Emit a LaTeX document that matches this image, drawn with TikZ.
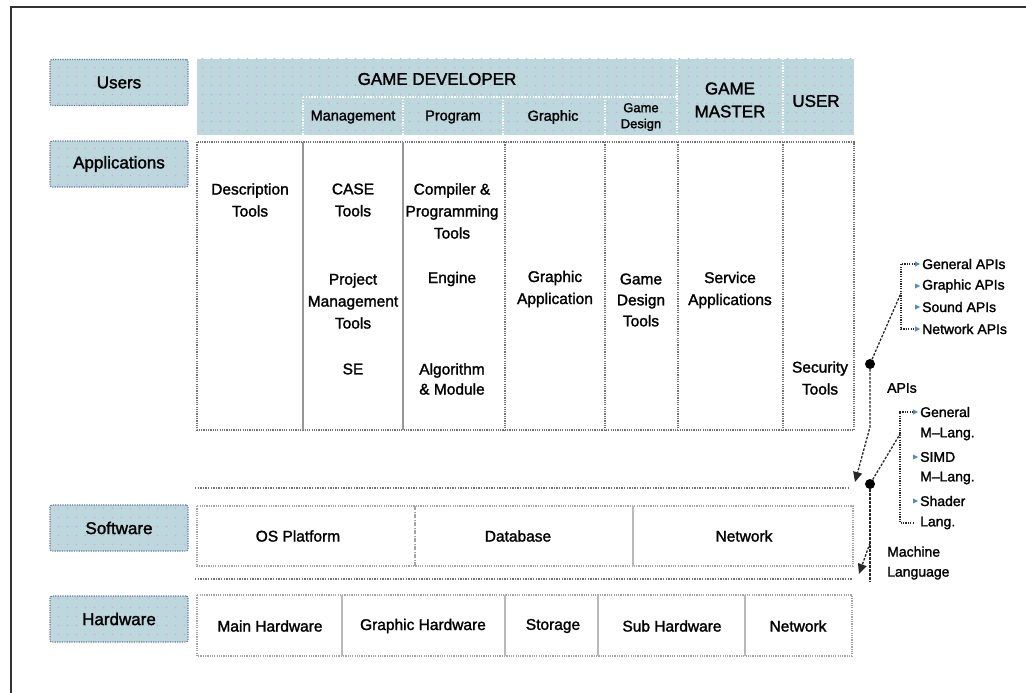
\documentclass[tikz,border=0pt]{standalone}
\usepackage{fontspec}
\setmainfont{Liberation Sans}[FakeBold=1.6]
\usetikzlibrary{arrows.meta,patterns}

% dotted texture used on the shaded header cells
\pgfdeclarepatternformonly{hdrdots}{\pgfpoint{-1pt}{-1pt}}{\pgfpoint{10pt}{10pt}}{\pgfpoint{9pt}{9pt}}%
  {\pgfpathcircle{\pgfpoint{4.5pt}{4.5pt}}{0.9pt}\pgfusepath{fill}}

\definecolor{hdrfill}{RGB}{188,216,221}
\definecolor{hdrdot}{RGB}{208,168,228}
\definecolor{labedge}{RGB}{95,120,160}
\definecolor{appline}{RGB}{115,115,115}
\definecolor{appsolid}{RGB}{150,150,150}
\definecolor{lowline}{RGB}{165,165,165}
\definecolor{lowsolid}{RGB}{185,185,185}
\definecolor{bulletc}{RGB}{80,140,200}
\definecolor{connc}{RGB}{40,40,40}

\tikzset{
  shaded/.style={fill=hdrfill, postaction={pattern=hdrdots, pattern color=hdrdot}},
  lab/.style={shaded, draw=labedge, line width=1.2pt, dash pattern=on 1.2pt off 1.2pt,
              rounded corners=2pt, minimum width=138pt, minimum height=46pt, inner sep=0pt,
              font=\fontsize{17}{20}\selectfont},
  band/.style={shaded, draw=none, inner sep=0pt},
  hd/.style={inner sep=0pt, align=center, font=\fontsize{17}{23}\selectfont},
  sub/.style={inner sep=0pt, align=center, font=\fontsize{14.5}{17}\selectfont},
  txt/.style={inner sep=0pt, align=center, font=\fontsize{15.5}{22}\selectfont},
  side/.style={inner sep=0pt, anchor=west, font=\fontsize{14}{17}\selectfont},
  whitediv/.style={draw=white, line width=1.3pt, dash pattern=on 1.4pt off 1.4pt},
  appbox/.style={draw=appline, line width=1.3pt, dash pattern=on 1.2pt off 1.1pt},
  appdiv/.style={draw=appsolid, line width=1.3pt},
  lowbox/.style={draw=lowline, line width=1.2pt, dash pattern=on 1.2pt off 1.1pt},
  lowdiv/.style={draw=lowsolid, line width=1.1pt},
  layer/.style={draw=appline, line width=1.2pt, dash pattern=on 1.3pt off 1.3pt},
  conn/.style={draw=connc, line width=1.3pt, dash pattern=on 2.5pt off 1.5pt},
  brk/.style={draw=connc, line width=1.1pt, dash pattern=on 1.3pt off 1.1pt},
  blacktip/.style={-{Triangle[length=10pt,width=9pt]}},
  hub/.style={circle, fill=black, inner sep=0pt, minimum size=10pt},
}

\begin{document}
\begin{tikzpicture}[x=1pt,y=-1pt]
\useasboundingbox (0,0) rectangle (1026,693);

% page frame (top and left edges)
\draw[line width=2pt, draw=black!80] (11,693) -- (11,7) -- (1026,7);

% ---- row labels ----
\node[lab] (lusers) at (119,82.5) {Users};
\node[lab] (lapps)  at (119,164)  {Applications};
\node[lab] (lsoft)  at (119,528)  {Software};
\node[lab] (lhard)  at (119,619)  {Hardware};

% ---- user header band ----
\node[band, minimum width=657pt, minimum height=76pt] (hband) at (525.5,97) {};
\draw[whitediv] (303,97) -- (677,97);
\foreach \x in {303,403,503,605} \draw[whitediv] (\x,97) -- (\x,135);
\foreach \x in {677,783} \draw[whitediv] (\x,59) -- (\x,135);

\node[hd] (gamedev) at (437,79) {GAME DEVELOPER};
\node[hd] (gamemaster) at (730,100) {GAME\\MASTER};
\node[hd] (enduser) at (816,101) {USER};
\node[sub] (hmgmt) at (353,117) {Management};
\node[sub] (hprog) at (453,117) {Program};
\node[sub] (hgraph) at (553,117) {Graphic};
\node[sub, font=\fontsize{13}{16}\selectfont] (hdesign) at (641,117) {Game\\Design};

% ---- applications ----
\draw[appbox] (197,142) rectangle (854,430);
\foreach \x in {303,403} \draw[appdiv] (\x,142) -- (\x,430);
\foreach \x in {505,605,678,783} \draw[appbox] (\x,142) -- (\x,430);

\node[txt] (desc) at (250,200) {Description\\Tools};
\node[txt] (casetools) at (353,200) {CASE\\Tools};
\node[txt] (pmtools) at (353,301) {Project\\Management\\Tools};
\node[txt] (se) at (353,369) {SE};
\node[txt] (compiler) at (452,211) {Compiler \&\\Programming\\Tools};
\node[txt] (engine) at (452,279) {Engine};
\node[txt, font=\fontsize{15.5}{20}\selectfont] (algo) at (452,379) {Algorithm\\\& Module};
\node[txt] (graphapp) at (555,289) {Graphic\\Application};
\node[txt, font=\fontsize{15.5}{21}\selectfont] (gdtools) at (641,300) {Game\\Design\\Tools};
\node[txt] (service) at (730,290) {Service\\Applications};
\node[txt] (security) at (820,378) {Security\\Tools};

% ---- layer boundaries ----
\draw[layer] (195,488) -- (850,488);
\draw[layer] (195,579) -- (852,579);

% ---- software ----
\draw[lowbox] (197,506) rectangle (853,566);
\draw[draw=lowline, line width=1.1pt, dash pattern=on 4pt off 1.5pt on 1pt off 1.5pt] (415,506) -- (415,566);
\draw[lowdiv] (633,506) -- (633,566);
\node[txt] (osplat) at (298,536) {OS Platform};
\node[txt] (database) at (518,536) {Database};
\node[txt] (swnet) at (744,536) {Network};

% ---- hardware ----
\draw[lowbox] (197,595) rectangle (852,656);
\foreach \x in {342,505,598,745} \draw[lowdiv] (\x,595) -- (\x,656);
\node[txt] (mainhw) at (270,626) {Main Hardware};
\node[txt] (graphhw) at (423,626) {Graphic Hardware};
\node[txt] (storage) at (553,626) {Storage};
\node[txt] (subhw) at (672,626) {Sub Hardware};
\node[txt] (hwnet) at (798,626) {Network};

% ---- API branch ----
\node[side] (genapi) at (922,264) {General APIs};
\node[side] (graapi) at (922,286) {Graphic APIs};
\node[side] (sndapi) at (922,307) {Sound APIs};
\node[side] (netapi) at (922,329) {Network APIs};
\node[side] (apis) at (887,388) {APIs};

\node[hub] (apihub) at (870,364) {};
\coordinate (apijoin) at (901,293);
\coordinate (apibend) at (870,427);
\coordinate (apitip) at (855,482);
\draw[brk, {Triangle[length=5pt,width=5pt,color=bulletc]}-{Triangle[length=5pt,width=5pt,color=bulletc]}]
  ([xshift=-2pt]genapi.west) -| (901,329) -- ([xshift=-2pt]netapi.west);
\foreach \n in {graapi,sndapi}
  \fill[bulletc] ([xshift=-2pt]\n.west) -- ++(-5,-2.5) -- ++(0,5) -- cycle;
\draw[conn] (apihub) -- (apijoin);
\draw[conn, blacktip] (apihub) -- (apibend) -- (apitip);

% ---- machine language branch ----
\node[side] (genml) at (920,412) {General};
\node[side] (genml2) at (920,434) {M--Lang.};
\node[side] (simd) at (920,457) {SIMD};
\node[side] (simd2) at (920,478) {M--Lang.};
\node[side] (shader) at (920,501) {Shader};
\node[side] (shader2) at (920,523) {Lang.};
\node[side, align=left, font=\fontsize{14}{20}\selectfont] (machine) at (887,563) {Machine\\Language};

\node[hub] (mlhub) at (870,484) {};
\coordinate (mljoin) at (900,434);
\coordinate (mlbranch) at (870,543);
\coordinate (mlend) at (870,582);
\coordinate (mltip) at (859,574);
\draw[brk, {Triangle[length=5pt,width=5pt,color=bulletc]}-]
  ([xshift=-2pt]genml.west) -| (900,523) -- ([xshift=-6pt]shader2.west);
\foreach \n in {simd,shader}
  \fill[bulletc] ([xshift=-2pt]\n.west) -- ++(-5,-2.5) -- ++(0,5) -- cycle;
\draw[conn] (mlhub) -- (mljoin);
\draw[conn] (mlhub) -- (mlend);
\draw[conn, blacktip] (mlbranch) -- (mltip);
\end{tikzpicture}
\end{document}
